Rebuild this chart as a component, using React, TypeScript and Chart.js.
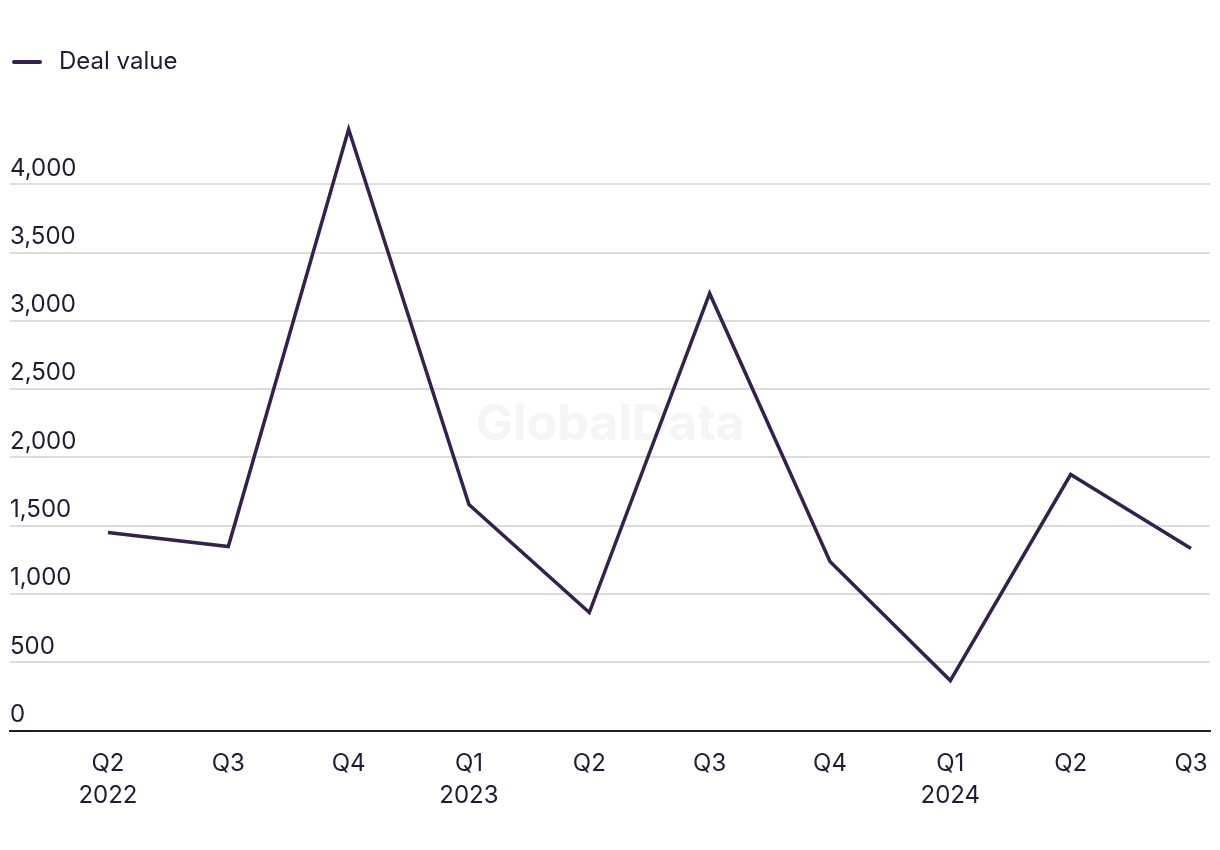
import React, { useEffect, useRef } from "react";
import { Chart, registerables } from "chart.js";

Chart.register(...registerables);

const quarterLabels: string[][] = [
  ["Q2", "2022"], ["Q3"], ["Q4"], ["Q1", "2023"], ["Q2"], ["Q3"], ["Q4"], ["Q1", "2024"], ["Q2"], ["Q3"],
];
const dealValues: number[] = [1450, 1348, 4403, 1656, 864, 3201, 1238, 366, 1875, 1333];
const yTickValues: number[] = [0, 500, 1000, 1500, 2000, 2500, 3000, 3500, 4000];
const seriesName = "Deal value";

const LINE_COLOR = "#34214f";
const TEXT_COLOR = "#1d1c33";
const FONT = "Inter, 'Liberation Sans', Arial, sans-serif";

const watermarkPlugin = {
  id: "watermark",
  beforeDatasetsDraw(chart: any) {
    const { ctx, chartArea } = chart;
    ctx.save();
    ctx.font = `bold 50px ${FONT}`;
    ctx.fillStyle = "#f5f5f5";
    ctx.textAlign = "center";
    ctx.textBaseline = "middle";
    ctx.fillText("GlobalData", (chartArea.left + chartArea.right) / 2, (chartArea.top + chartArea.bottom) / 2 + 2);
    ctx.restore();
  },
};

const legendPlugin = {
  id: "customLegend",
  afterDraw(chart: any) {
    const { ctx } = chart;
    const ds = chart.data.datasets[0];
    ctx.save();
    ctx.strokeStyle = ds.borderColor;
    ctx.lineWidth = 4;
    ctx.lineCap = "round";
    ctx.beginPath();
    ctx.moveTo(6, 54);
    ctx.lineTo(32, 54);
    ctx.stroke();
    ctx.font = `24px ${FONT}`;
    ctx.fillStyle = TEXT_COLOR;
    ctx.textAlign = "left";
    ctx.textBaseline = "middle";
    ctx.fillText(ds.label, 51, 54);
    ctx.restore();
  },
};

export default function App() {
  const canvasRef = useRef<HTMLCanvasElement | null>(null);

  useEffect(() => {
    if (!canvasRef.current) return;
    const chart = new Chart(canvasRef.current, {
      type: "line",
      data: {
        datasets: [
          {
            label: seriesName,
            data: dealValues.map((v, i) => ({ x: i, y: v })),
            borderColor: LINE_COLOR,
            backgroundColor: LINE_COLOR,
            borderWidth: 3.5,
            pointRadius: 0,
            tension: 0,
            borderJoinStyle: "miter",
          },
        ],
      },
      options: {
        animation: false,
        responsive: true,
        maintainAspectRatio: false,
        layout: { padding: { top: 108, left: 2, right: 2, bottom: 13 } },
        plugins: {
          legend: { display: false },
          tooltip: { enabled: false },
        },
        scales: {
          x: {
            type: "linear",
            min: -0.814,
            max: 9.158,
            afterBuildTicks: (axis: any) => {
              axis.ticks = quarterLabels.map((_, i) => ({ value: i }));
            },
            afterFit: (axis: any) => {
              axis.paddingLeft = 0;
              axis.paddingRight = 0;
            },
            grid: { display: false, drawTicks: false },
            border: { display: true, color: "#1d1c33", width: 2 },
            ticks: {
              autoSkip: false,
              maxRotation: 0,
              padding: 18,
              color: TEXT_COLOR,
              font: { family: FONT, size: 24, lineHeight: 1.3 },
              callback: (v: any) => quarterLabels[Math.round(Number(v))] ?? "",
            },
          },
          y: {
            min: 0,
            max: 4500,
            afterBuildTicks: (axis: any) => {
              axis.ticks = yTickValues.map((v) => ({ value: v }));
            },
            grid: { color: "#dcdcdc", lineWidth: 2, drawTicks: false },
            border: { display: false },
            ticks: {
              mirror: true,
              padding: 0,
              labelOffset: -16,
              color: TEXT_COLOR,
              font: { family: FONT, size: 24 },
              callback: (v: any) => Number(v).toLocaleString("en-US"),
            },
          },
        },
      },
      plugins: [watermarkPlugin, legendPlugin],
    });
    return () => chart.destroy();
  }, []);

  return (
    <div style={{ width: 1204, height: 834, position: "relative" }}>
      <canvas ref={canvasRef} />
    </div>
  );
}
